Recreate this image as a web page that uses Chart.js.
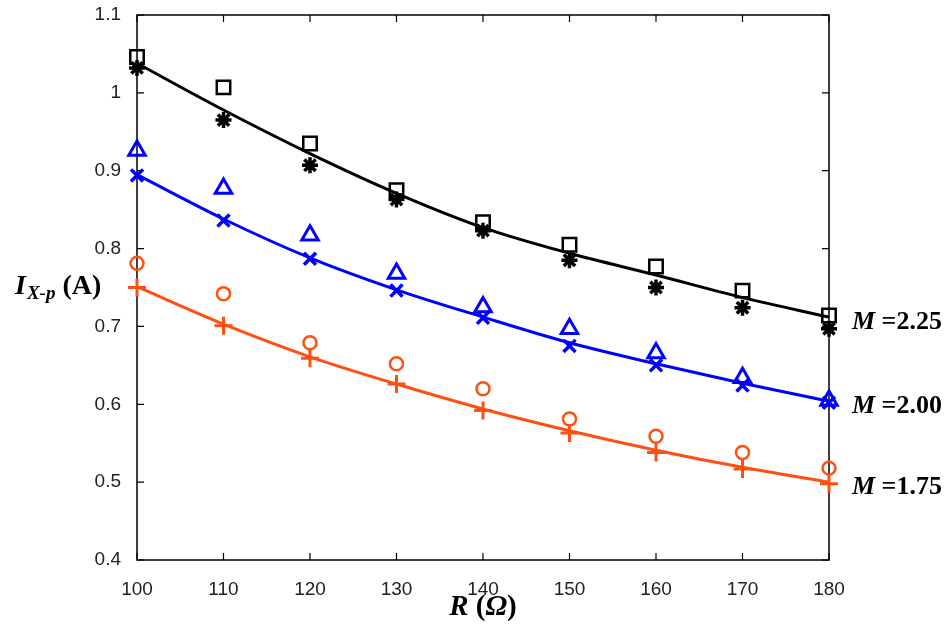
<!DOCTYPE html>
<html>
<head>
<meta charset="utf-8">
<script src="https://cdn.jsdelivr.net/npm/chart.js@4.4.0/dist/chart.umd.min.js"></script>
<style>
  html, body { margin: 0; padding: 0; background: #fff; }
  #wrap { width: 951px; height: 624px; }
</style>
</head>
<body>
<div id="wrap"><canvas id="chart" width="951" height="624"></canvas></div>
<script>
// resistance values (x axis)
const rValues = [100, 110, 120, 130, 140, 150, 160, 170, 180];
const yTicks = [0.4, 0.5, 0.6, 0.7, 0.8, 0.9, 1.0, 1.1];

// M = 2.25
const fit225 = [1.038, 0.978, 0.922, 0.871, 0.827, 0.794, 0.766, 0.737, 0.712];
const square225 = [1.046, 1.007, 0.935, 0.875, 0.834, 0.805, 0.777, 0.746, 0.714];
const star225 = [1.032, 0.965, 0.907, 0.863, 0.823, 0.785, 0.750, 0.724, 0.697];

// M = 2.00
const fit200 = [0.895, 0.838, 0.788, 0.747, 0.712, 0.679, 0.652, 0.627, 0.604];
const triangle200 = [0.926, 0.877, 0.817, 0.768, 0.725, 0.697, 0.666, 0.634, 0.605];
const cross200 = [0.894, 0.836, 0.787, 0.746, 0.711, 0.675, 0.650, 0.624, 0.602];

// M = 1.75
const fit175 = [0.751, 0.703, 0.661, 0.626, 0.594, 0.566, 0.541, 0.519, 0.500];
const circle175 = [0.781, 0.742, 0.679, 0.652, 0.620, 0.581, 0.559, 0.538, 0.518];
const plus175 = [0.750, 0.701, 0.659, 0.626, 0.592, 0.563, 0.538, 0.517, 0.498];

const curveLabels = ['2.25', '2.00', '1.75'];

const BLACK = '#000000';
const BLUE = '#0000ff';
const ORANGE = '#ff5014';
const SERIF = '"Liberation Serif", "Times New Roman", serif';

const pts = arr => arr.map((v, i) => ({ x: rValues[i], y: v }));

function lineSet(arr, color) {
    return {
        data: pts(arr), borderColor: color, borderWidth: 3, pointRadius: 0,
        tension: 0.4, cubicInterpolationMode: 'monotone', fill: false, clip: false, order: 2
    };
}
function markerSet(arr, color, style, radius, width) {
    return {
        data: pts(arr), showLine: false, pointStyle: style, pointRadius: radius,
        pointBorderColor: color, pointBackgroundColor: 'rgba(0,0,0,0)',
        pointBorderWidth: width, clip: false, order: 1
    };
}

// box + inward ticks (MATLAB style)
const framePlugin = {
    id: 'frame',
    beforeDatasetsDraw(chart) {
        const { ctx, chartArea: a, scales } = chart;
        ctx.save();
        ctx.strokeStyle = '#000';
        ctx.lineWidth = 1.5;
        ctx.strokeRect(a.left, a.top, a.right - a.left, a.bottom - a.top);
        ctx.lineWidth = 1.2;
        ctx.beginPath();
        rValues.forEach(v => {
            const px = scales.x.getPixelForValue(v);
            ctx.moveTo(px, a.bottom); ctx.lineTo(px, a.bottom - 7);
            ctx.moveTo(px, a.top); ctx.lineTo(px, a.top + 7);
        });
        yTicks.forEach(v => {
            const py = scales.y.getPixelForValue(v);
            ctx.moveTo(a.left, py); ctx.lineTo(a.left + 7, py);
            ctx.moveTo(a.right, py); ctx.lineTo(a.right - 7, py);
        });
        ctx.stroke();
        ctx.restore();
    },
    afterDraw(chart) {
        const { ctx, chartArea: a, scales } = chart;
        ctx.save();
        ctx.fillStyle = '#000';
        ctx.textBaseline = 'alphabetic';
        ctx.textAlign = 'left';

        // y title  I_{X-p} (A)
        let x = 15;
        ctx.font = 'italic bold 28px ' + SERIF;
        ctx.fillText('I', x, 294);
        x += ctx.measureText('I').width + 1;
        ctx.font = 'italic bold 19px ' + SERIF;
        ctx.fillText('X-p', x, 299);
        x += ctx.measureText('X-p').width + 7;
        ctx.font = 'bold 28px ' + SERIF;
        ctx.fillText('(A)', x, 294);

        // x title  R (Ω)
        const parts = [
            ['R', 'italic bold'], [' (', 'bold'], ['Ω', 'italic bold'], [')', 'bold']
        ];
        let total = 0;
        parts.forEach(p => {
            ctx.font = p[1] + ' 29px ' + SERIF;
            total += ctx.measureText(p[0]).width;
        });
        x = (a.left + a.right) / 2 - total / 2;
        parts.forEach(p => {
            ctx.font = p[1] + ' 29px ' + SERIF;
            ctx.fillText(p[0], x, 615);
            x += ctx.measureText(p[0]).width;
        });

        // curve labels on the right
        const ends = [fit225, fit200, fit175];
        ends.forEach((arr, i) => {
            const py = scales.y.getPixelForValue(arr[arr.length - 1]) + 12;
            let lx = a.right + 23;
            ctx.font = 'italic bold 26px ' + SERIF;
            ctx.fillText('M', lx, py);
            lx += ctx.measureText('M').width;
            ctx.font = 'bold 26px ' + SERIF;
            ctx.fillText(' =' + curveLabels[i], lx, py);
        });
        ctx.restore();
    }
};

const tickFont = { family: '"Liberation Sans", Arial, sans-serif', size: 19 };

new Chart(document.getElementById('chart').getContext('2d'), {
    type: 'line',
    data: {
        datasets: [
            lineSet(fit225, BLACK),
            lineSet(fit200, BLUE),
            lineSet(fit175, ORANGE),
            markerSet(square225, BLACK, 'rect', 9.5, 2.5),
            markerSet(star225, BLACK, 'star', 8, 3.5),
            markerSet(triangle200, BLUE, 'triangle', 9.5, 3),
            markerSet(cross200, BLUE, 'crossRot', 8.5, 3.5),
            markerSet(circle175, ORANGE, 'circle', 6.5, 2.5),
            markerSet(plus175, ORANGE, 'cross', 9, 3)
        ]
    },
    options: {
        responsive: false,
        animation: false,
        layout: { padding: { left: 0, right: 122, top: 15, bottom: 0 } },
        plugins: { legend: { display: false }, tooltip: { enabled: false } },
        scales: {
            x: {
                type: 'linear', min: 100, max: 180,
                grid: { display: false }, border: { display: false },
                afterBuildTicks: s => { s.ticks = rValues.map(v => ({ value: v })); },
                ticks: { color: '#222', font: tickFont, padding: 10, maxRotation: 0 },
                afterFit: s => { s.height = 64; s.paddingLeft = 0; s.paddingRight = 0; }
            },
            y: {
                type: 'linear', min: 0.4, max: 1.1,
                grid: { display: false }, border: { display: false },
                afterBuildTicks: s => { s.ticks = yTicks.map(v => ({ value: v })); },
                ticks: {
                    color: '#222', font: tickFont, padding: 8,
                    callback: v => String(Number(v.toFixed(1)))
                },
                afterFit: s => { s.width = 137; s.paddingTop = 0; s.paddingBottom = 0; }
            }
        }
    },
    plugins: [framePlugin]
});
</script>
</body>
</html>
